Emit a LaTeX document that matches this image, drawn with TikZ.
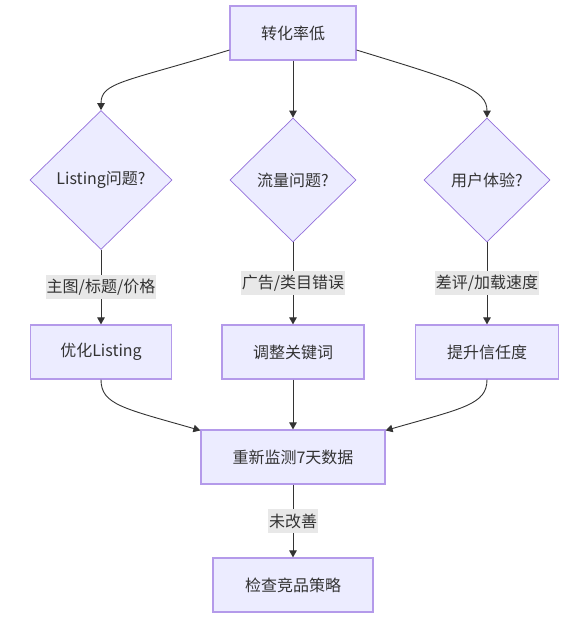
\documentclass[tikz,border=0pt]{standalone}
\usepackage{fontspec}
\setmainfont{Noto Sans CJK SC}
\usepackage{tikz}
\usetikzlibrary{arrows.meta,shapes.geometric,positioning}
\usepackage{xcolor}
\definecolor{boxfill}{HTML}{ECECFF}
\definecolor{boxline}{HTML}{B49AEA}
\definecolor{dialine}{HTML}{9370DB}
\definecolor{inktext}{HTML}{333333}
\definecolor{labelbg}{HTML}{E8E8E8}

\begin{document}
\begin{tikzpicture}[x=1pt,y=1pt]
                        \tikzset{Step/.style={%
                                shape=rectangle,%
                                draw=boxline,%
                                fill=boxfill,%
                                line width=1.2pt,%
                                text=inktext,%
                                font=\fontsize{16}{19}\selectfont,%
                                minimum height=54pt,%
                                inner sep=0pt,%
                            },
                            Check/.style={%
                                shape=diamond,%
                                draw=dialine,%
                                fill=boxfill,%
                                line width=0.7pt,%
                                text=inktext,%
                                font=\fontsize{16}{19}\selectfont,%
                                inner sep=0pt,%
                            },
                            Cause/.style={%
                                fill=labelbg,%
                                text=inktext,%
                                font=\fontsize{16}{19}\selectfont,%
                                inner xsep=1pt,%
                                minimum height=24pt,%
                            },
                            Flow/.style={%
                                draw=inktext,%
                                line width=0.9pt,%
                                -{Triangle[length=7pt,width=7.5pt]},%
                            }}

                            \useasboundingbox (0,0) rectangle (582,-627);

                            \node[Step, minimum width=126pt] (low) at (293,-33) {转化率低};
                            \node[Check, minimum width=126pt, minimum height=124pt, below of=low, node distance=147pt] (traffic) {流量问题?};
                            \node[Check, minimum width=142pt, minimum height=139pt, left of=traffic, node distance=192pt] (listing) {Listing问题?};
                            \node[Check, minimum width=126pt, minimum height=124pt, right of=traffic, node distance=194pt] (ux) {用户体验?};
                            \node[Step, minimum width=142pt, below of=traffic, node distance=172pt] (keyword) {调整关键词};
                            \node[Step, minimum width=141pt, below of=listing, node distance=172pt] (optimize) {优化Listing};
                            \node[Step, minimum width=143pt, below of=ux, node distance=172pt] (trust) {提升信任度};
                            \node[Step, minimum width=184pt, below of=keyword, node distance=105pt] (monitor) {重新监测7天数据};
                            \node[Step, minimum width=160pt, below of=monitor, node distance=128pt] (rival) {检查竞品策略};

                            \path (low.195) edge[Flow, out=197, in=90, out distance=110pt, in distance=28pt] (listing.north);
                            \path (low.south) edge[Flow] (traffic.north);
                            \path (low.345) edge[Flow, out=-17, in=90, out distance=110pt, in distance=28pt] (ux.north);
                            \path (listing.south) edge[Flow] node[Cause]{主图/标题/价格} (optimize.north);
                            \path (traffic.south) edge[Flow] node[Cause]{广告/类目错误} (keyword.north);
                            \path (ux.south) edge[Flow] node[Cause]{差评/加载速度} (trust.north);
                            \path (optimize.south) edge[Flow, out=270, in=164, out distance=25pt, in distance=80pt] (monitor.164);
                            \path (keyword.south) edge[Flow] (monitor.north);
                            \path (trust.south) edge[Flow, out=270, in=16, out distance=25pt, in distance=80pt] (monitor.16);
                            \path (monitor.south) edge[Flow] node[Cause]{未改善} (rival.north);
                    \end{tikzpicture}
\end{document}
